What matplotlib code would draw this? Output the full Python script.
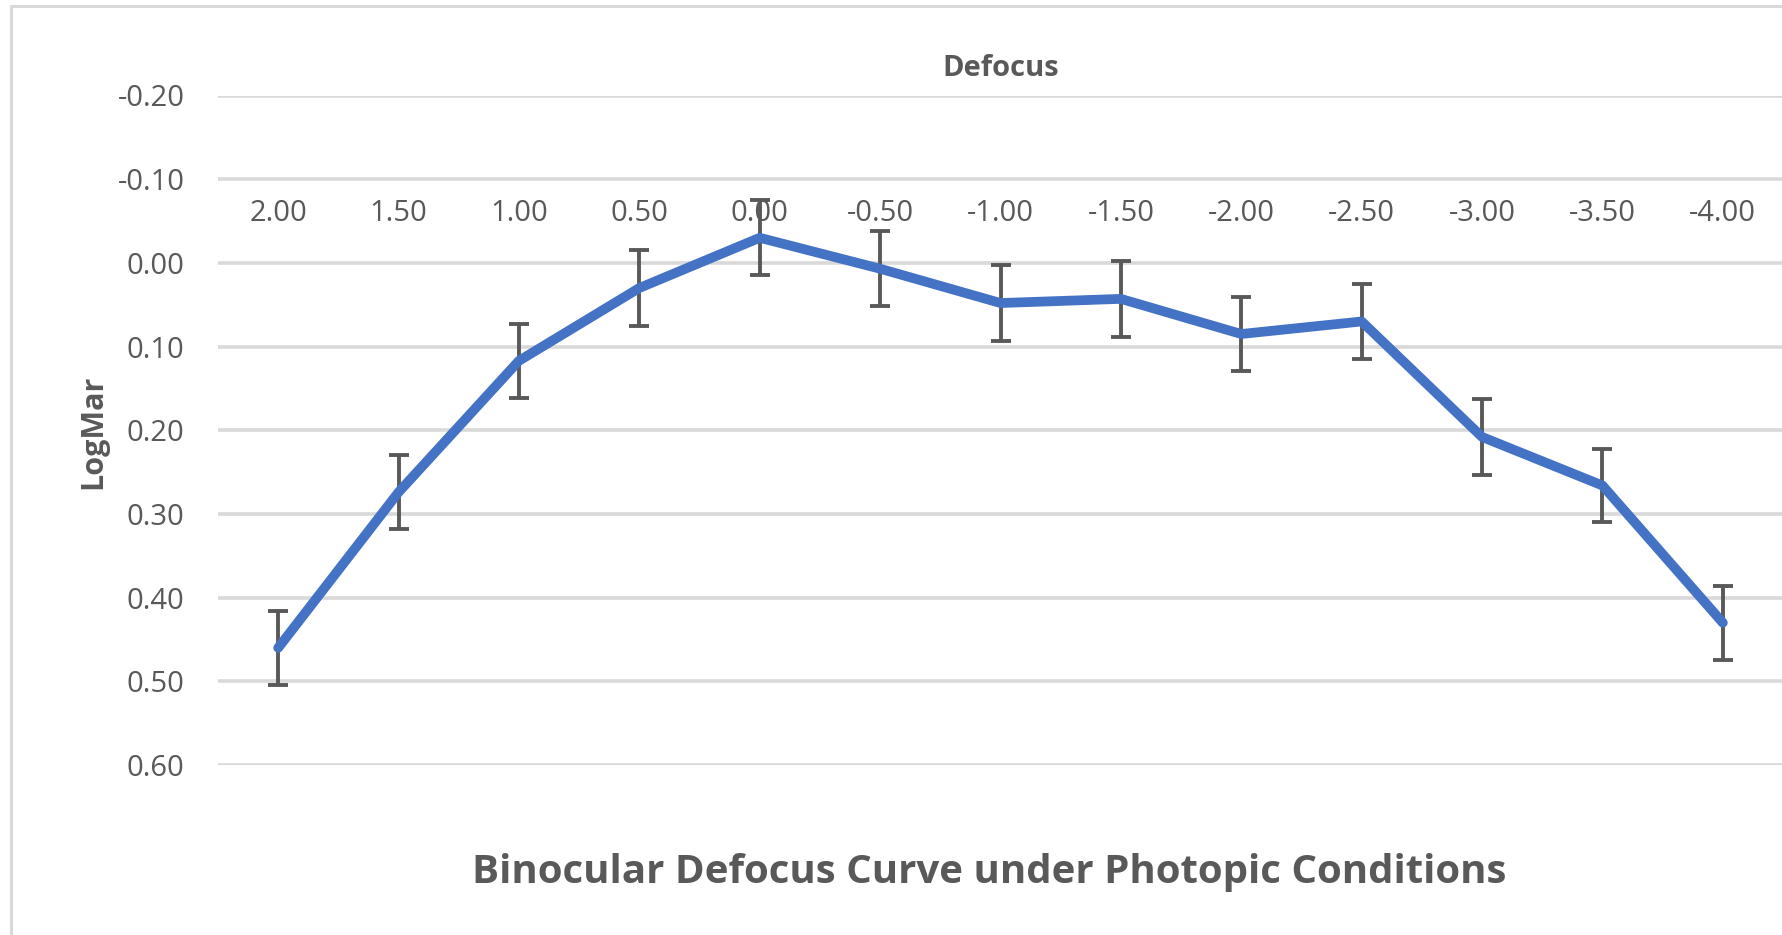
import matplotlib.pyplot as plt
import matplotlib.transforms as mtransforms
from matplotlib.patches import Rectangle

plt.rcParams['font.family'] = ['Liberation Sans Narrow', 'Open Sans', 'DejaVu Sans']

# defocus steps (D) and mean binocular logMAR with error
defocus = ["2.00", "1.50", "1.00", "0.50", "0.00", "-0.50", "-1.00",
           "-1.50", "-2.00", "-2.50", "-3.00", "-3.50", "-4.00"]
logmar = [0.460, 0.274, 0.117, 0.030, -0.030, 0.007, 0.048,
          0.043, 0.085, 0.070, 0.208, 0.266, 0.430]
err = [0.044, 0.044, 0.044, 0.045, 0.045, 0.045, 0.045,
       0.045, 0.044, 0.045, 0.045, 0.044, 0.044]
yticks = [-0.2, -0.1, 0.0, 0.1, 0.2, 0.3, 0.4, 0.5, 0.6]

TXT = "#595959"
GRID = "#D9D9D9"
BLUE = "#4472C4"

fig = plt.figure(figsize=(17.83, 9.35), dpi=100)
fig.patches.append(Rectangle((11 / 1783, -0.05), 1.1, 1.05 - 6 / 935,
                             transform=fig.transFigure, fill=False,
                             edgecolor=GRID, linewidth=2.2, zorder=0))

ax = fig.add_axes([218 / 1783, 1 - 765 / 935, 1 - 218 / 1783, (765 - 95.5) / 935])
x = list(range(len(defocus)))

ax.errorbar(x, logmar, yerr=err, fmt='none', ecolor=TXT, elinewidth=2.8,
            capsize=7, capthick=2.8, zorder=3)
ax.plot(x, logmar, color=BLUE, linewidth=7, solid_capstyle='round',
        solid_joinstyle='round', zorder=4)

ax.set_xlim(-0.5, len(defocus) - 0.5)
ax.set_ylim(0.6, -0.2)
ax.set_yticks(yticks)
ax.set_yticklabels([f"{v:.2f}" for v in yticks])
ax.set_xticks([])
ax.grid(axis='y', color=GRID, linewidth=2.6, zorder=1)
ax.set_axisbelow(True)
for s in ax.spines.values():
    s.set_visible(False)
ax.tick_params(axis='y', length=0, pad=24, labelsize=21, labelcolor=TXT)

# category labels sit inside the plot, just above the 0.00 line
trans = mtransforms.blended_transform_factory(ax.transData, ax.transData)
for i, lab in enumerate(defocus):
    ax.text(i, -0.059, lab, transform=trans, ha='center', va='center',
            fontsize=21, color=TXT, zorder=5)

fig.text(1001 / 1783, 1 - 68 / 935, "Defocus", ha='center', va='center',
         fontsize=21, fontweight='bold', color=TXT)
fig.text(93 / 1783, 1 - 432 / 935, "LogMar", ha='center', va='center',
         rotation=90, fontsize=22, fontweight='bold', color=TXT)
fig.text(989 / 1783, 1 - 873 / 935, "Binocular Defocus Curve under Photopic Conditions",
         ha='center', va='center', fontsize=29, fontweight='bold', color=TXT)

fig.savefig("out.png", dpi=100)
